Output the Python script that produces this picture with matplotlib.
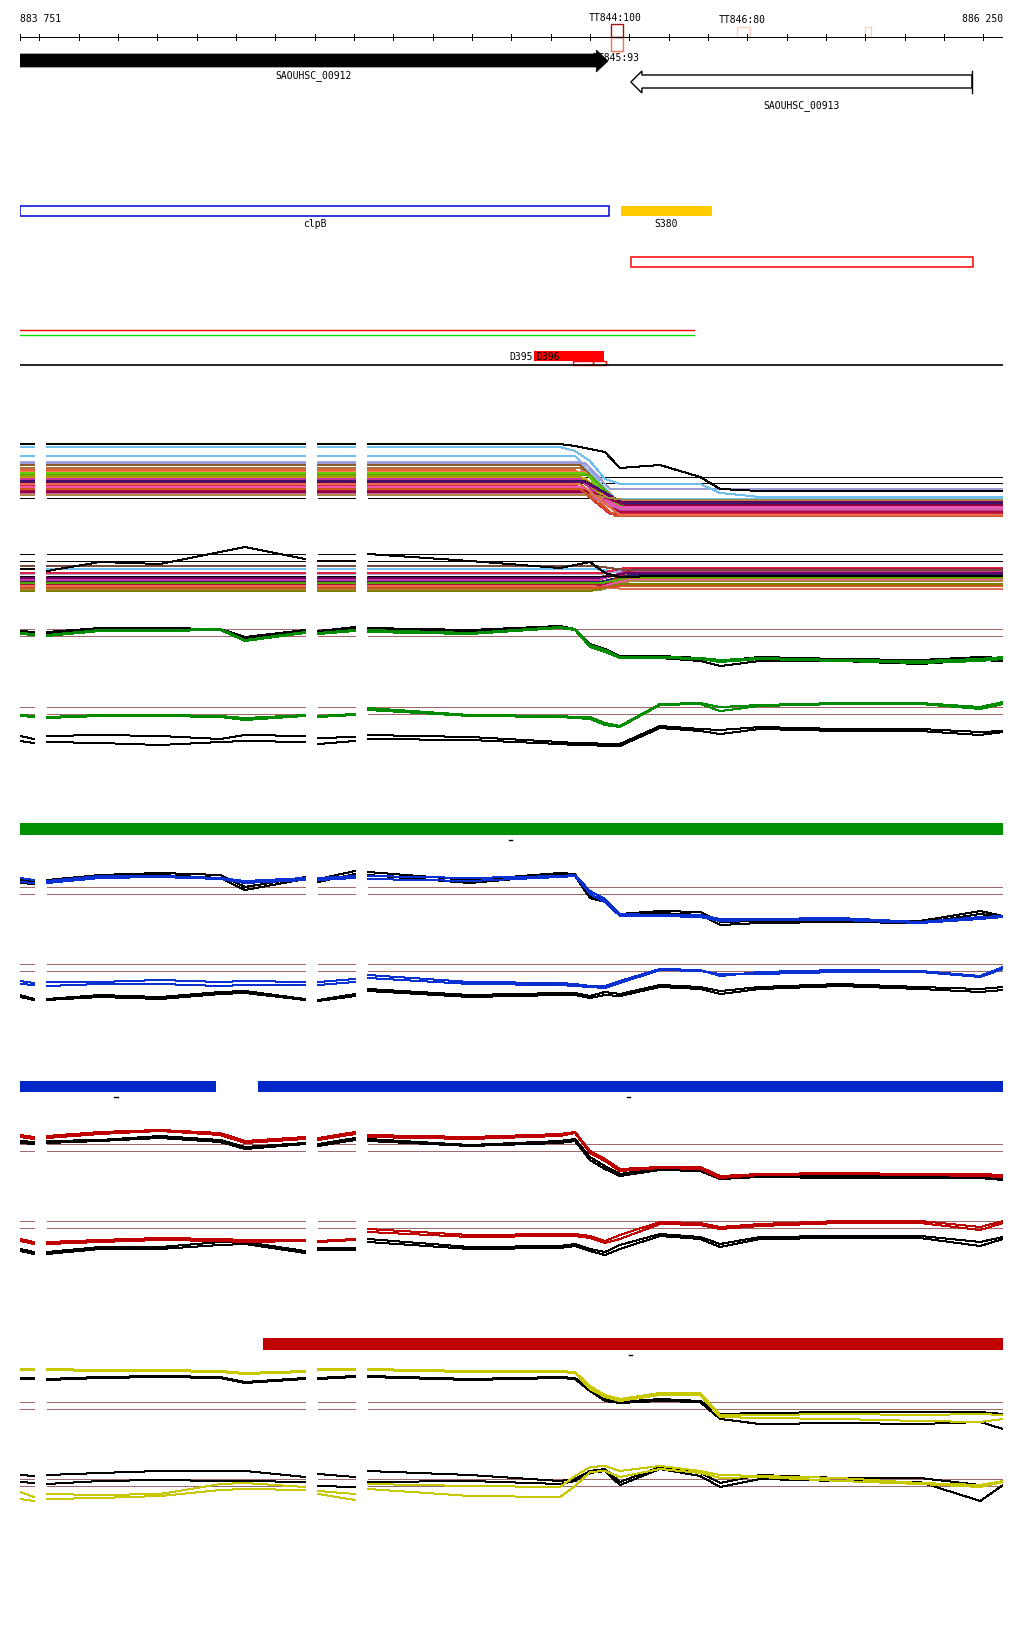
import numpy as np
import matplotlib.pyplot as plt
from matplotlib.patches import Rectangle, Polygon

W, H = 1024, 1640
START, END = 883751, 886250
PX_LEFT, PX_RIGHT = 20, 1003

# --- annotation data (genomic coordinates) ---
TICKS = [START] + list(range(883800, 886201, 100)) + [END]
GENE_NAMES = ["SAOUHSC_00912", "SAOUHSC_00913"]
GENE_START = [883751, 885304]
GENE_END = [885246, 886171]
FEAT_NAMES = ["clpB", "S380"]
FEAT_START = [883751, 885279]
FEAT_END = [885248, 885510]
TSS_NAMES = ["TT844:100", "TT845:93", "TT846:80"]
TSS_POS = [885264, 885266, 885586]
D396_START, D396_END = 885058, 885236
OPERON_START, OPERON_END = 885304, 886174
LINE_END = 885464
GREEN_BAR = [(883751, 886250)]
BLUE_BAR = [(883751, 884249), (884356, 886250)]
RED_BAR = [(884369, 886250)]

# --- profile grid: positions with data, the gaps between segments have none ---
SEG_A = [883751, 883787]
SEG_B = [883820, 883954, 884107, 884260, 884323, 884476]
SEG_C = [884509, 884603]
SEG_D = [884636, 884895, 885124, 885162, 885200, 885238, 885276, 885378,
         885480, 885531, 885632, 885835, 886039, 886192, 886250]
SEGMENTS = [SEG_A, SEG_B, SEG_C, SEG_D]

# signal values (height above track floor), order A | B | C | D
T1_BLACK = [85, 85,  85, 85, 85, 85, 85, 85,  85, 85,
            85, 85, 85, 83, 80, 77, 61, 64, 52, 40, 38, 38, 38, 38, 38]
T1_BLUE = [82, 82,  82, 82, 82, 82, 82, 82,  82, 82,
           82, 82, 82, 78, 68, 50, 45, 45, 45, 36, 32, 32, 32, 32, 32]
T2_BLACK = [30, 30,  28, 37, 35, 47, 52, 40,  38, 38,
            45, 38, 31, 34, 37, 26, 22, 23, 23, 23, 23, 23, 23, 23, 23]

T3_BLACK_1 = [48, 47,  47, 51, 51, 50, 42, 49,  48, 52,
              51, 49, 53, 50, 35, 30, 23, 23, 21, 18, 22, 20, 19, 22, 21]
T3_BLACK_2 = [46, 46,  46, 49, 50, 49, 40, 48,  47, 51,
              49, 48, 52, 49, 33, 27, 21, 21, 18, 13, 18, 18, 15, 19, 18]
T3_GREEN_1 = [46, 45,  44, 49, 49, 50, 39, 47,  46, 49,
              49, 46, 52, 50, 34, 29, 22, 22, 21, 19, 21, 19, 18, 20, 22]
T3_GREEN_2 = [45, 44,  43, 48, 48, 49, 38, 46,  45, 48,
              47, 45, 51, 49, 32, 27, 21, 21, 20, 17, 20, 18, 16, 18, 20]

T4_GREEN_1 = [44, 43,  42, 44, 44, 43, 41, 44,  43, 45,
              51, 44, 43, 42, 42, 36, 33, 55, 56, 52, 54, 56, 56, 52, 57]
T4_GREEN_2 = [43, 42,  41, 43, 43, 42, 39, 43,  42, 44,
              49, 43, 42, 41, 40, 34, 32, 54, 55, 48, 53, 55, 55, 50, 55]
T4_BLACK_1 = [23, 20,  23, 24, 23, 20, 24, 23,  21, 22,
              24, 22, 17, 16, 16, 15, 15, 33, 30, 29, 32, 30, 30, 27, 28]
T4_BLACK_2 = [18, 16,  17, 16, 14, 17, 18, 17,  15, 18,
              20, 19, 15, 14, 14, 13, 13, 31, 28, 25, 30, 28, 28, 24, 27]

T5_BLUE_1 = [61, 59,  58, 63, 63, 61, 58, 61,  61, 63,
             63, 61, 63, 64, 48, 40, 25, 24, 24, 20, 20, 21, 17, 22, 23]
T5_BLUE_2 = [57, 56,  56, 61, 62, 60, 56, 59,  59, 61,
             60, 58, 62, 63, 45, 37, 23, 23, 22, 18, 19, 19, 16, 20, 22]
T5_BLACK_1 = [59, 57,  59, 64, 66, 64, 52, 62,  60, 68,
              67, 59, 66, 65, 43, 40, 25, 28, 27, 17, 18, 19, 18, 28, 23]
T5_BLACK_2 = [56, 55,  56, 62, 64, 61, 49, 60,  57, 65,
              64, 56, 64, 63, 41, 37, 23, 26, 24, 14, 16, 17, 16, 25, 22]

T6_BLUE_1 = [28, 26,  27, 27, 29, 27, 28, 27,  27, 30,
             34, 27, 26, 25, 23, 23, 28, 40, 39, 33, 37, 39, 38, 33, 42]
T6_BLUE_2 = [25, 24,  23, 25, 25, 23, 24, 24,  24, 27,
             31, 25, 24, 23, 22, 21, 26, 39, 38, 35, 35, 37, 37, 32, 40]
T6_BLACK_1 = [14, 10,  10, 14, 12, 17, 18, 10,  9, 15,
              20, 14, 16, 16, 13, 17, 15, 24, 22, 18, 22, 25, 22, 20, 22]
T6_BLACK_2 = [12, 9,  9, 12, 10, 15, 16, 9,  8, 13,
              18, 12, 14, 14, 11, 14, 13, 22, 20, 15, 20, 23, 20, 17, 19]

T7_RED_1 = [54, 52,  53, 57, 59, 56, 48, 52,  51, 57,
            54, 52, 55, 57, 38, 30, 20, 22, 22, 13, 15, 16, 15, 15, 14]
T7_RED_2 = [52, 50,  51, 55, 58, 54, 46, 50,  49, 55,
            52, 50, 53, 56, 36, 28, 18, 21, 20, 11, 14, 15, 14, 13, 12]
T7_BLACK_1 = [48, 47,  48, 49, 53, 49, 42, 46,  45, 51,
              50, 44, 48, 50, 32, 23, 15, 21, 20, 12, 13, 13, 13, 13, 10]
T7_BLACK_2 = [46, 45,  46, 48, 51, 47, 40, 45,  43, 49,
              48, 43, 46, 48, 29, 20, 13, 19, 18, 10, 12, 11, 11, 11, 9]

T8_RED_1 = [20, 17,  17, 19, 21, 20, 19, 19,  18, 20,
            30, 24, 25, 25, 23, 18, 24, 37, 36, 32, 35, 38, 38, 32, 38]
T8_RED_2 = [18, 15,  15, 17, 19, 18, 17, 18,  17, 19,
            27, 22, 23, 23, 21, 16, 20, 35, 34, 30, 33, 36, 36, 29, 36]
T8_BLACK_1 = [10, 7,  7, 12, 12, 17, 17, 8,  11, 11,
              20, 12, 13, 15, 10, 7, 14, 25, 22, 15, 22, 23, 23, 17, 22]
T8_BLACK_2 = [8, 5,  5, 10, 10, 14, 15, 6,  9, 9,
              17, 10, 11, 13, 8, 4, 10, 23, 20, 12, 20, 21, 21, 13, 20]

T9_YELLOW_1 = [70, 70,  70, 69, 69, 68, 66, 68,  70, 70,
               70, 68, 68, 67, 53, 44, 40, 46, 46, 24, 24, 25, 24, 25, 24]
T9_YELLOW_2 = [69, 69,  69, 68, 68, 67, 65, 67,  69, 69,
               69, 67, 67, 66, 50, 42, 38, 44, 44, 22, 21, 20, 18, 17, 20]
T9_BLACK_1 = [61, 61,  60, 62, 63, 62, 57, 61,  61, 63,
              63, 60, 62, 61, 50, 40, 37, 40, 38, 25, 26, 27, 27, 27, 25]
T9_BLACK_2 = [60, 60,  59, 61, 62, 61, 56, 60,  60, 62,
              62, 59, 61, 60, 48, 38, 36, 38, 37, 20, 15, 16, 15, 17, 10]

T10_BLACK_1 = [34, 33,  34, 36, 38, 38, 38, 32,  35, 32,
               38, 34, 28, 30, 38, 40, 27, 42, 36, 26, 34, 31, 31, 24, 28]
T10_BLACK_2 = [27, 26,  25, 28, 29, 28, 28, 27,  23, 22,
               27, 28, 25, 28, 36, 38, 24, 40, 33, 22, 30, 28, 27, 8, 24]
T10_YELLOW_1 = [17, 12,  15, 14, 15, 25, 26, 22,  18, 15,
                25, 23, 22, 33, 42, 43, 38, 43, 38, 34, 33, 31, 26, 24, 28]
T10_YELLOW_2 = [10, 8,  10, 11, 13, 19, 20, 19,  15, 9,
                20, 13, 12, 23, 37, 38, 32, 40, 36, 31, 32, 28, 25, 22, 27]

# multi-sample tracks: level before / after the clpB 3' end, and where it changes
T1_COLORS = ["#6fbfef", "#a8a8e0", "#9c9cd8", "#8b5a2b", "#b07040", "#e8643c",
             "#ff7f50", "#66cc00", "#55aa00", "#999900", "#c8a000", "#cc3399",
             "#222266", "#660066", "#dd2244", "#ee55aa", "#b0103c", "#880044",
             "#d060b0", "#aa8844", "#cc5522", "#e07050"]
T1_LEFT = [73, 67, 66, 64, 61, 59, 57, 56, 54, 53, 51, 50, 48, 47, 44, 42, 39, 37, 35, 34, 40, 45]
T1_RIGHT = [30, 28, 40, 23, 20, 16, 26, 25, 24, 21, 19, 18, 25, 27, 15, 22, 17, 24, 20, 29, 13, 14]
T1_FROM = [885162, 885175, 885187, 885175, 885175, 885162, 885187, 885187, 885200, 885175, 885187,
           885175, 885187, 885187, 885162, 885175, 885187, 885200, 885187, 885200, 885175, 885175]
T1_TO = [885264, 885264, 885251, 885276, 885276, 885251, 885276, 885264, 885276, 885264, 885276,
         885264, 885289, 885276, 885251, 885276, 885276, 885289, 885276, 885289, 885264, 885276]
T1_FLAT = [52, 46, 31]

T2_COLORS = ["#6fbfef", "#a8a8e0", "#dd2244", "#8b5a2b", "#e8643c", "#66cc00",
             "#999900", "#c8a000", "#cc3399", "#222266", "#b0103c", "#ee55aa",
             "#660066", "#aa8844", "#808000", "#e07050", "#cc5522", "#55aa00", "#7a4a3a"]
T2_LEFT = [30, 25, 26, 22, 20, 18, 15, 16, 19, 17, 14, 12, 21, 9, 8, 13, 11, 16, 33]
T2_RIGHT = [26, 29, 31, 24, 27, 21, 20, 25, 28, 24, 30, 19, 26, 18, 15, 10, 13, 22, 29]
T2_FROM = [885213, 885226, 885226, 885213, 885226, 885238, 885226, 885238, 885220, 885226,
           885238, 885226, 885216, 885226, 885200, 885200, 885200, 885232, 885213]
T2_TO = [885289, 885302, 885289, 885289, 885302, 885302, 885302, 885289, 885296, 885302,
         885308, 885296, 885292, 885302, 885276, 885289, 885289, 885302, 885289]
T2_FLAT = [45, 38, 23]

BROWN = "#a06a6a"
GREEN, BLUE, RED, YELLOW = "#008c00", "#0a32d2", "#c00000", "#c8c800"
LW = 0.72  # one pixel at 100 dpi

plt.rcParams["font.family"] = ["DejaVu Sans Mono"]
FS = 7

fig = plt.figure(figsize=(W / 100, H / 100), dpi=100)
fig.patch.set_facecolor("white")

# main canvas: genomic x, pixel-row y (used for annotation rows and bars)
ax = fig.add_axes([PX_LEFT / W, 0, (PX_RIGHT - PX_LEFT) / W, 1])
ax.set_xlim(START, END)
ax.set_ylim(H, 0)
ax.axis("off")


def gapped(vals):
    xs, ys, i = [], [], 0
    for seg in SEGMENTS:
        n = len(seg)
        xs += list(seg) + [np.nan]
        ys += list(vals[i:i + n]) + [np.nan]
        i += n
    return xs, ys


def stepped(left, right, x_from, x_to):
    xs, ys = [], []
    for seg in SEGMENTS[:3]:
        xs += [seg[0], seg[-1], np.nan]
        ys += [left, left, np.nan]
    xs += [SEG_D[0], x_from, x_to, SEG_D[-1]]
    ys += [left, left, right, right]
    return xs, ys


def track_axes(top, bottom):
    a = fig.add_axes([PX_LEFT / W, 1 - bottom / H, (PX_RIGHT - PX_LEFT) / W, (bottom - top) / H])
    a.set_xlim(START, END)
    a.set_ylim(0, bottom - top)
    a.axis("off")
    return a


def line(a, xs, ys, color, lw=LW):
    a.plot(xs, ys, color=color, lw=lw, antialiased=False)


# ---- ruler ----
ax.plot([START, END], [38, 38], color="black", lw=LW)
for t in TICKS:
    ax.plot([t, t], [35, 41], color="black", lw=LW)
ax.text(START, 19, "883 751", fontsize=FS, ha="left", va="center")
ax.text(END, 19, "886 250", fontsize=FS, ha="right", va="center", clip_on=False)

# TSS marks
ax.add_patch(Rectangle((885253, 25), 30, 13, fill=False, edgecolor="#a01010", lw=1))
ax.add_patch(Rectangle((885253, 38), 30, 14, fill=False, edgecolor="#f07050", lw=1))
ax.add_patch(Rectangle((885574, 28), 33, 10, fill=False, edgecolor="#f6d2c2", lw=1))
ax.add_patch(Rectangle((885899, 28), 15, 10, fill=False, edgecolor="#f6d2c2", lw=1))
ax.text(TSS_POS[0], 18, TSS_NAMES[0], fontsize=FS, ha="center", va="center")
ax.text(TSS_POS[2], 20, TSS_NAMES[2], fontsize=FS, ha="center", va="center")
ax.text(TSS_POS[1], 58, TSS_NAMES[1], fontsize=FS, ha="center", va="center", zorder=1)

# genes
s, e = GENE_START[0], GENE_END[0]
hl = 30
ax.add_patch(Polygon([(s, 55), (e - hl, 55), (e - hl, 51), (e, 62), (e - hl, 73),
                      (e - hl, 68), (s, 68)], closed=True, facecolor="black",
                     edgecolor="black", lw=0.5, zorder=3))
ax.text((s + e) / 2, 76, GENE_NAMES[0], fontsize=FS, ha="center", va="center")
s, e = GENE_START[1], GENE_END[1]
hl = 28
ax.add_patch(Polygon([(e, 76), (s + hl, 76), (s + hl, 72), (s, 83), (s + hl, 94),
                      (s + hl, 89), (e, 89)], closed=True, facecolor="white",
                     edgecolor="black", lw=1, zorder=3))
ax.plot([e, e], [72, 94], color="black", lw=1, zorder=3)
ax.text((s + e) / 2, 106, GENE_NAMES[1], fontsize=FS, ha="center", va="center")

# features
ax.add_patch(Rectangle((FEAT_START[0], 207), FEAT_END[0] - FEAT_START[0], 10,
                       fill=False, edgecolor="#0000dd", lw=1.1))
ax.add_patch(Rectangle((FEAT_START[1], 207), FEAT_END[1] - FEAT_START[1], 10,
                       facecolor="#ffcc00", edgecolor="none"))
for n, a0, a1 in zip(FEAT_NAMES, FEAT_START, FEAT_END):
    ax.text((a0 + a1) / 2, 224, n, fontsize=FS, ha="center", va="center")
ax.add_patch(Rectangle((OPERON_START, 258), OPERON_END - OPERON_START, 10,
                       fill=False, edgecolor="#ff0000", lw=1.1))
ax.plot([START, LINE_END], [331, 331], color="#ff0000", lw=1)
ax.plot([START, LINE_END], [336, 336], color="#00e000", lw=1)

ax.add_patch(Rectangle((D396_START, 352), D396_END - D396_START, 10,
                       facecolor="#ff0000", edgecolor="none"))
ax.text(D396_START - 3, 357, "D395", fontsize=FS, ha="right", va="center")
ax.text(D396_START + 7, 357, "D396", fontsize=FS, ha="left", va="center")
ax.add_patch(Rectangle((885157, 362), 51, 4, fill=False, edgecolor="#ff0000", lw=1))
ax.add_patch(Rectangle((885208, 362), 33, 4, fill=False, edgecolor="#ff0000", lw=1))
ax.plot([START, END], [366, 366], color="black", lw=1.2)

# condition bars
for bars, color, y0, y1 in [(GREEN_BAR, "#009000", 824, 836), (BLUE_BAR, "#0028c8", 1082, 1093),
                            (RED_BAR, "#c00000", 1339, 1351)]:
    for b0, b1 in bars:
        ax.add_patch(Rectangle((b0, y0), b1 - b0, y1 - y0, facecolor=color, edgecolor="none"))
for x, y in [(884999, 841), (883995, 1098), (885299, 1098), (885304, 1356)]:
    ax.plot([x - 4, x + 4], [y, y], color="black", lw=1)

# ---- multi-sample tracks ----
a1 = track_axes(430, 530)
for v in T1_FLAT:
    line(a1, *stepped(v, v, SEG_D[1], SEG_D[2]), "black")
for c, l, r, f, t in zip(T1_COLORS, T1_LEFT, T1_RIGHT, T1_FROM, T1_TO):
    line(a1, *stepped(l, r, f, t), c)
line(a1, *gapped(T1_BLUE), "#6fbfef")
line(a1, *gapped(T1_BLACK), "black")

a2 = track_axes(540, 600)
for c, l, r, f, t in zip(T2_COLORS, T2_LEFT, T2_RIGHT, T2_FROM, T2_TO):
    line(a2, *stepped(l, r, f, t), c)
for v in T2_FLAT:
    line(a2, *stepped(v, v, SEG_D[1], SEG_D[2]), "black")
line(a2, *gapped(T2_BLACK), "black")

# ---- paired condition tracks ----
PAIRED = [
    (610, 680, [50, 43], [(T3_BLACK_1, "black"), (T3_BLACK_2, "black"), (T3_GREEN_1, GREEN), (T3_GREEN_2, GREEN)]),
    (690, 760, [52, 45], [(T4_BLACK_1, "black"), (T4_BLACK_2, "black"), (T4_GREEN_1, GREEN), (T4_GREEN_2, GREEN)]),
    (860, 940, [52, 45], [(T5_BLACK_1, "black"), (T5_BLACK_2, "black"), (T5_BLUE_1, BLUE), (T5_BLUE_2, BLUE)]),
    (950, 1010, [45, 38], [(T6_BLACK_1, "black"), (T6_BLACK_2, "black"), (T6_BLUE_1, BLUE), (T6_BLUE_2, BLUE)]),
    (1110, 1190, [45, 38], [(T7_BLACK_1, "black"), (T7_BLACK_2, "black"), (T7_RED_1, RED), (T7_RED_2, RED)]),
    (1200, 1260, [38, 31], [(T8_BLACK_1, "black"), (T8_BLACK_2, "black"), (T8_RED_1, RED), (T8_RED_2, RED)]),
    (1360, 1440, [37, 30], [(T9_BLACK_1, "black"), (T9_BLACK_2, "black"), (T9_YELLOW_1, YELLOW), (T9_YELLOW_2, YELLOW)]),
    (1450, 1510, [30, 23], [(T10_BLACK_1, "black"), (T10_BLACK_2, "black"), (T10_YELLOW_1, YELLOW), (T10_YELLOW_2, YELLOW)]),
]
for top, bottom, thresholds, profiles in PAIRED:
    a = track_axes(top, bottom)
    for v in thresholds:
        line(a, *stepped(v, v, SEG_D[1], SEG_D[2]), BROWN)
    for vals, c in profiles:
        line(a, *gapped(vals), c)

fig.savefig("out.png", dpi=100, facecolor="white")
